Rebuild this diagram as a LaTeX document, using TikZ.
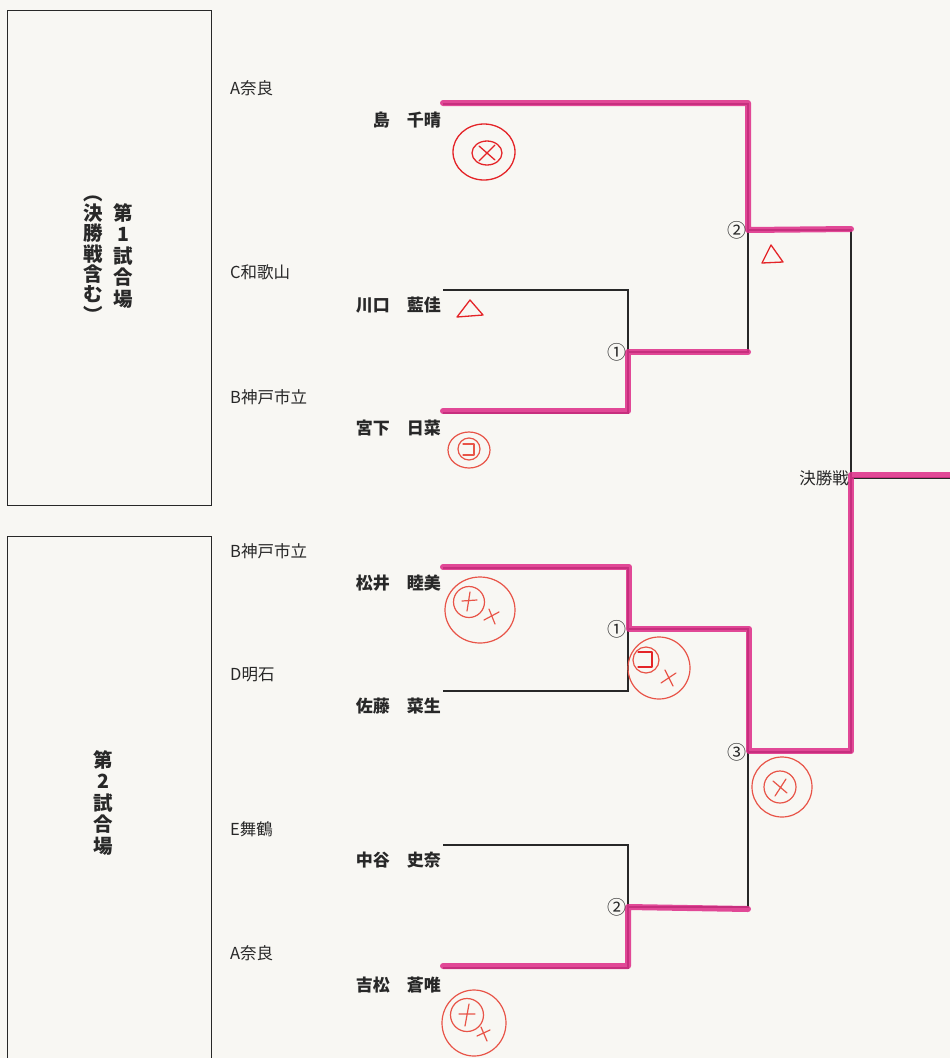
\documentclass[tikz,border=0pt]{standalone}
\usepackage{fontspec}
\newfontfamily\jp{Noto Sans CJK JP}
\definecolor{paper}{RGB}{248,247,243}
\definecolor{hl}{RGB}{222,48,138}
\definecolor{pen}{RGB}{228,36,40}
\definecolor{pen2}{RGB}{232,84,72}
\definecolor{ink}{RGB}{40,40,40}
\tikzset{
  bk/.style={draw=ink,line width=1.1pt},
  hil/.style={draw=hl,line width=6pt,opacity=0.88,line cap=round,line join=round},
  lbl/.style={font=\jp\fontsize{16.5}{16.5}\selectfont,text=ink,anchor=west,inner sep=0pt},
  nm/.style={font=\jp\bfseries\fontsize{17}{17}\selectfont,text=ink,anchor=east,inner sep=0pt},
  num/.style={font=\jp\fontsize{19}{19}\selectfont,text=ink,anchor=east,inner sep=0pt},
  vt/.style={font=\jp\bfseries\fontsize{19.5}{21.5}\selectfont,text=ink,align=center,inner sep=0pt},
  mk/.style={draw=pen,line width=1.3pt,line cap=round,line join=round},
  mk2/.style={draw=pen2,line width=1.2pt,line cap=round,line join=round},
}
\begin{document}
\begin{tikzpicture}[x=1pt,y=-1pt]
\useasboundingbox (0,0) rectangle (950,1058);
\clip (0,0) rectangle (950,1058);
\fill[paper] (0,0) rectangle (950,1058);

% venue boxes
\draw[bk,line width=1pt] (7,10) rectangle (211,505);
\draw[bk,line width=1pt] (7,536) rectangle (211,1075);
\node[vt] (v1a) at (123,256) {第\\1\\試\\合\\場};
\node[vt,font=\jp\bfseries\fontsize{19.5}{20.3}\selectfont] (v1b) at (93,259) {︵\\決\\勝\\戦\\含\\む\\︶};
\node[vt] (v2) at (103,803) {第\\2\\試\\合\\場};

% school labels
\node[lbl] (s1) at (230,88) {A奈良};
\node[lbl] (s2) at (230,272) {C和歌山};
\node[lbl] (s3) at (230,397) {B神戸市立};
\node[lbl] (s4) at (230,551) {B神戸市立};
\node[lbl] (s5) at (230,675) {D明石};
\node[lbl] (s6) at (230,829) {E舞鶴};
\node[lbl] (s7) at (230,953) {A奈良};

% player names
\node[nm] (n1) at (441,120) {島　千晴};
\node[nm] (n2) at (441,305) {川口　藍佳};
\node[nm] (n3) at (441,428) {宮下　日菜};
\node[nm] (n4) at (441,583) {松井　睦美};
\node[nm] (n5) at (441,706) {佐藤　菜生};
\node[nm] (n6) at (441,860) {中谷　史奈};
\node[nm] (n7) at (441,985) {吉松　蒼唯};

% bracket coordinates
\coordinate (p1) at (443,104);
\coordinate (p2) at (443,290);
\coordinate (p3) at (443,413);
\coordinate (p4) at (443,568);
\coordinate (p5) at (443,691);
\coordinate (p6) at (443,845);
\coordinate (p7) at (443,968);
\coordinate (j1) at (628,352);
\coordinate (j2) at (628,629);
\coordinate (j3) at (628,907);
\coordinate (k1) at (748,230);
\coordinate (k2) at (748,752);
\coordinate (f) at (851,478);
\coordinate (e) at (952,478);

% black bracket
\draw[bk] (p1) -| (k1);
\draw[bk] (p2) -| (j1);
\draw[bk] (p3) -| (j1);
\draw[bk] (j1) -| (k1);
\draw[bk] (k1) -| (f);
\draw[bk] (p4) -| (j2);
\draw[bk] (p5) -| (j2);
\draw[bk] (p6) -| (j3);
\draw[bk] (p7) -| (j3);
\draw[bk] (j2) -| (k2);
\draw[bk] (j3) -| (k2);
\draw[bk] (k2) -| (f);
\draw[bk] (f) -- (e);

% highlighted winners
\draw[hil] ([yshift=1pt]p1) -| ([xshift=0pt]k1) -- ([xshift=103pt,yshift=1pt]k1);
\draw[hil] ([yshift=2pt]p3) -| (j1) -- ([xshift=120pt]j1);
\draw[hil] ([yshift=1pt]p4) -| ([xshift=1pt]j2) -| ([xshift=1pt,yshift=1pt]k2) -| ([yshift=3pt]f) -- ([yshift=3pt]e);
\draw[hil] ([yshift=2pt]p7) -| (j3) -- ([xshift=120pt,yshift=-2pt]j3);

% match numbers
\node[num] (m1) at ([xshift=-1pt]j1) {①};
\node[num] (m2) at ([xshift=-1pt]k1) {②};
\node[num] (m3) at ([xshift=-1pt]j2) {①};
\node[num] (m4) at ([xshift=-1pt]k2) {③};
\node[num] (m5) at ([xshift=-1pt]j3) {②};
\node[font=\jp\fontsize{16.5}{16.5}\selectfont,text=ink,anchor=east,inner sep=0pt] (fl) at (849,478) {決勝戦};

% handwritten marks
% 島
\draw[mk] (484,152) ellipse [x radius=31, y radius=28];
\draw[mk] (487,153) ellipse [x radius=15, y radius=12];
\draw[mk] (479,146) -- (495,160) (495,145) -- (479,161);
% 川口 triangle
\draw[mk] (470,300) -- (457,317) -- (483,315) -- cycle;
% ② triangle
\draw[mk] (771,245) -- (762,263) -- (783,262) -- cycle;
% 宮下
\draw[mk2] (469,450) ellipse [x radius=21, y radius=18];
\draw[mk2] (469,449) circle (11);
\draw[mk2] (463,444) -- (474,444) -- (474,455) -- (463,455);
% 松井
\draw[mk2] (480,610) ellipse [x radius=35, y radius=33];
\draw[mk2] (469,602) circle (15.5);
\draw[mk2] (462,601) -- (477,600) (470,592) -- (467,611);
\draw[mk2] (484,620) -- (499,612) (489,609) -- (495,624);
% ① lower
\draw[mk2] (659,668) ellipse [x radius=31, y radius=31];
\draw[mk2] (646,660) circle (13);
\draw[mk] (638,652) -- (652,652) -- (652,667) -- (638,667);
\draw[mk2] (661,683) -- (676,673) (665,670) -- (673,686);
% ③
\draw[mk2] (782,787) circle (30);
\draw[mk2] (780,787) circle (16);
\draw[mk2] (773,781) -- (787,793) (786,779) -- (775,796);
% 吉松
\draw[mk2] (474,1023) ellipse [x radius=32, y radius=33];
\draw[mk2] (467,1015) circle (16.5);
\draw[mk2] (459,1014) -- (475,1014) (469,1004) -- (465,1026);
\draw[mk2] (477,1036) -- (490,1030) (481,1027) -- (487,1041);
\end{tikzpicture}
\end{document}
